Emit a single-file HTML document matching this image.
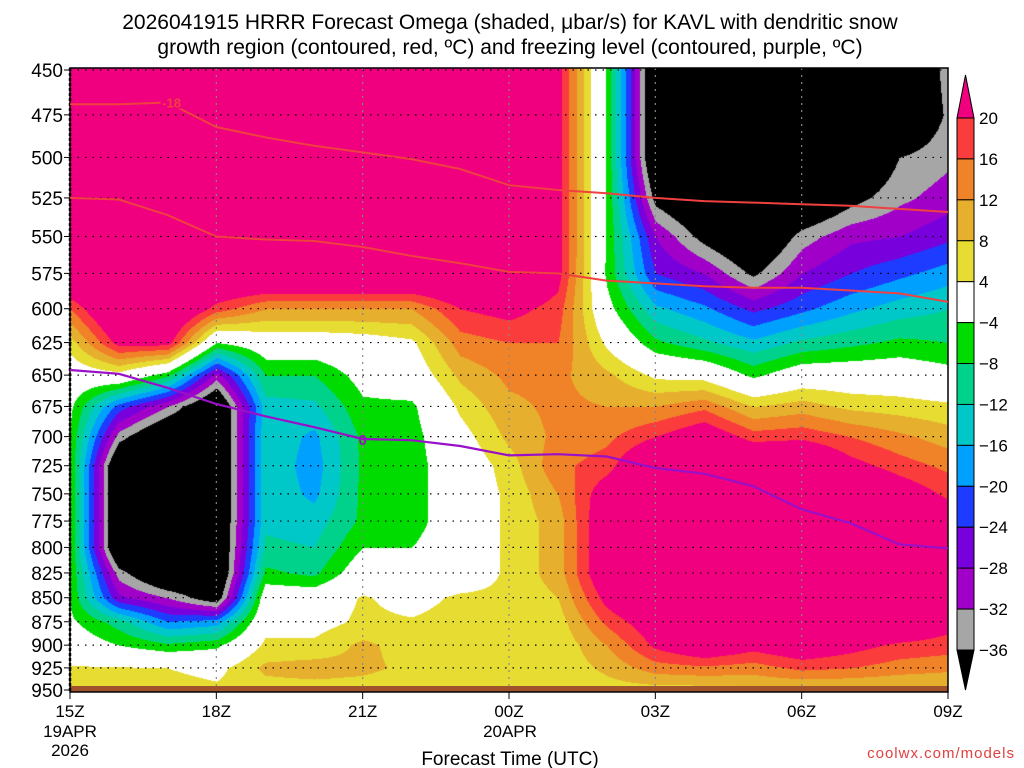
<!DOCTYPE html>
<html><head><meta charset="utf-8"><style>
body{margin:0;background:#fff;width:1024px;height:768px;overflow:hidden;font-family:"Liberation Sans",sans-serif}
#wrap{position:relative;width:1024px;height:768px}
canvas,svg{position:absolute;left:0;top:0}
</style></head><body><div id="wrap">
<canvas id="cv" width="1024" height="768"></canvas>
<svg id="sv" width="1024" height="768"></svg>
</div>
<script>
const hours=["15Z","16Z","17Z","18Z","19Z","20Z","21Z","22Z","23Z","00Z","01Z","02Z","03Z","04Z","05Z","06Z","07Z","08Z","09Z"];
const levels=[450,475,500,525,550,575,600,625,650,675,700,725,750,775,800,825,850,875,900,925,950];
// omega by hour, each array over levels 450..950
const omega=[
[30,30,30,30,30,30,16,6,0,-3,-4.5,-4.5,-4.5,-4.5,-4.5,-4.5,-4.5,-3,0,4.5,6],
[30,30,30,30,30,30,30,22,2,-22,-34,-45,-45,-45,-45,-34,-27,-10,-4,4.5,6],
[30,30,30,30,30,30,30,22,-7,-32,-45,-45,-45,-45,-45,-45,-32,-20,-7,4,6],
[30,30,30,30,30,30,18,-4,-30,-45,-45,-45,-45,-45,-45,-45,-40,-18,-5,2.5,5],
[30,30,30,30,30,30,12,0,-8,-14,-13,-13,-13,-13,-11,-7,0,2,5,9,6],
[30,30,30,30,30,30,12,0,-8,-13,-17,-18,-17,-14,-12,-9,0,2,5,10,6],
[30,30,30,30,30,30,12,1,-2,-5,-7,-7,-7,-7,-4,0,4.5,5,9,9,6],
[30,30,30,30,30,30,12,3,0,-5,-6,-6,-6,-6,-4,0,2,4.5,6,7,5],
[30,30,30,30,30,30,20,14,9,5,2,0,0,0,0,0,5,6,6,6,5],
[30,30,30,30,30,30,22,16,13,11,9,6,5,5,5,5,5,4,5,6,5],
[22,22,22,22,22,22,18,16,13,13,13,15,12,10,10,10,8,6,5,5,4],
[-4.5,-4.5,-4.5,-4.5,-4.5,-5,-2,3,9,12,15,18,24,26,26,26,22,17,12,9,6],
[-45,-45,-45,-38,-28,-24,-15,-7,3,12,20,30,30,30,30,30,30,24,21,14,6],
[-45,-45,-45,-45,-38,-28,-19,-11,2,15,25,30,30,30,30,30,30,26,26,15,6],
[-45,-45,-45,-45,-45,-37,-25,-15,-5,8,18,30,30,30,30,30,30,26,22,14,7],
[-45,-45,-45,-45,-34,-28,-21,-11,0,10,19,30,30,30,30,30,30,28,25,17,7],
[-45,-45,-45,-38,-29,-24,-17,-9,0,7,16,22,30,30,30,30,30,28,22,16,7],
[-45,-45,-36,-33,-28,-21,-14,-7,0,6,13,18,24,30,30,30,30,27,19,14,7],
[-34,-35,-33,-30,-25,-18,-12,-8,-2,5,10,15,19,24,24,24,24,22,18,13,7]];
const tempM18=[469,469,468,482,488,493,497,501,507,517,520,522,525,527,528,529,530,532,534];
const tempM12=[525,526,536,550,552,553,557,563,568,574,575,580,582,584,585,585,587,589,595];
const freezing=[646,649,660,673,683,692,702,703,708,716,715,717,727,732,743,764,777,797,801];
const cbLabels=["20","16","12","8","4","\u22124","\u22128","\u221212","\u221216","\u221220","\u221224","\u221228","\u221232","\u221236"];
const thresholds=[20,16,12,8,4,-4,-8,-12,-16,-20,-24,-28,-32,-36];
const colors=["#f0007e","#fa3c3c","#f08228","#e6af2d","#e6dc32","#ffffff","#00dc00","#00d28c","#00c8c8","#00a0ff","#1e3cff","#7800dc","#a000c8","#a6a6a6","#000000"];

const X0=70,X1=948,Y0=70,Y1=690,K=Math.log(950/450);
function xs(h){return X0+(X1-X0)*h/(hours.length-1);}
function ys(p){return Y0+(Y1-Y0)*Math.log(p/450)/K;}
function pAt(y){return 450*Math.exp((y-Y0)/(Y1-Y0)*K);}
function colorFor(v){for(let i=0;i<thresholds.length;i++){if(v>=thresholds[i])return colors[i];}return colors[colors.length-1];}

const cv=document.getElementById('cv'),ctx=cv.getContext('2d');
const W=X1-X0,Ht=692-68;
const img=ctx.createImageData(W,Ht);
const rgbCache={};
function rgb(c){if(!rgbCache[c])rgbCache[c]=[parseInt(c.substr(1,2),16),parseInt(c.substr(3,2),16),parseInt(c.substr(5,2),16)];return rgbCache[c];}
const nh=hours.length-1,nl=levels.length-1,dl=(levels[nl]-levels[0])/nl;
for(let py=0;py<Ht;py++){
 let p=Math.min(950,Math.max(450,pAt(68+py)));
 let r=(p-levels[0])/dl;let r0=Math.min(nl-1,Math.floor(r));let fr=r-r0;
 for(let px=0;px<W;px++){
  let h=px/(W)*nh;let c0=Math.min(nh-1,Math.floor(h));let fh=h-c0;
  let v=(omega[c0][r0]*(1-fh)+omega[c0+1][r0]*fh)*(1-fr)+(omega[c0][r0+1]*(1-fh)+omega[c0+1][r0+1]*fh)*fr;
  const c=rgb(colorFor(v));const i=(py*W+px)*4;
  img.data[i]=c[0];img.data[i+1]=c[1];img.data[i+2]=c[2];img.data[i+3]=255;
 }
}
ctx.putImageData(img,X0,68);

const NS="http://www.w3.org/2000/svg",sv=document.getElementById('sv');
function el(tag,at,txt){const e=document.createElementNS(NS,tag);for(const k in at)e.setAttribute(k,at[k]);if(txt!==undefined)e.textContent=txt;sv.appendChild(e);return e;}

levels.forEach((p,i)=>{
 const y=ys(p);
 const l=el('line',{x1:X0,x2:X1,y1:y,y2:y,stroke:'#000','stroke-width':1.2,'stroke-dasharray':'1.5,6'});
 
 
 const t=el('text',{x:63,y:y+7,'text-anchor':'end','font-size':19,fill:'#000'},String(p));
 
 
 el('line',{x1:64,x2:70,y1:y,y2:y,stroke:'#000'});
});
const g=el('rect',{x:X0,y:686,width:W,height:6,fill:'#a0522d'});


hours.forEach((h,i)=>{
 if(i%3!==0)return;
 const x=xs(i);
 if(i>0&&i<nh){const l=el('line',{x1:x,x2:x,y1:68,y2:692,stroke:'#888','stroke-width':1.2,'stroke-dasharray':'2,5'});
 
 }
 el('line',{x1:x,x2:x,y1:692,y2:699,stroke:'#000'});
 const t=el('text',{x:x,y:717,'text-anchor':'middle','font-size':17},h);
 
 
});
const dl1=el('text',{x:70,y:737,'text-anchor':'middle','font-size':17},'19APR');


const dl2=el('text',{x:70,y:756,'text-anchor':'middle','font-size':17},'2026');


const dl3=el('text',{x:510,y:737,'text-anchor':'middle','font-size':17},'20APR');



const fr=el('rect',{x:X0,y:68,width:W,height:624,fill:'none',stroke:'#000','stroke-width':1.5});


el('line',{x1:X0,x2:X0,y1:68,y2:692,stroke:'#000','stroke-width':2.5,'stroke-dasharray':'3,2'});

function line(arr,color,name,w){
 let d='';arr.forEach((p,i)=>{d+=(i?'L':'M')+xs(i).toFixed(1)+','+ys(p).toFixed(1);});
 const pth=el('path',{d:d,fill:'none',stroke:color,'stroke-width':w});
 
 
}
line(tempM18,'#f04040','temp-contour-minus18',2);
line(tempM12,'#f04040','temp-contour-minus12',2);
line(freezing,'#9a10c8','freezing-level-contour',2.2);
el('rect',{x:xs(2)-7,y:ys(tempM18[2])-8,width:22,height:14,fill:'#f0007e'});
const l18=el('text',{x:xs(2)+4,y:ys(tempM18[2])+5,'text-anchor':'middle','font-size':13,'font-weight':'bold',fill:'#f04040'},'-18');


const l0=el('text',{x:xs(6),y:ys(freezing[6])+6,'text-anchor':'middle','font-size':15,'font-weight':'bold',fill:'#9a10c8'},'0');



const CBX=957,CBW=17,CBT=118,CBB=650,bh=(CBB-CBT)/(thresholds.length-1);
const tri1=el('polygon',{points:`${CBX},${CBT} ${CBX+CBW},${CBT} ${CBX+CBW/2},${75}`,fill:colors[0],stroke:'#000'});


for(let i=0;i<thresholds.length-1;i++){
 const r=el('rect',{x:CBX,y:CBT+i*bh,width:CBW,height:bh,fill:colors[i+1],stroke:'#000','stroke-width':1});
 
 
}
const tri2=el('polygon',{points:`${CBX},${CBB} ${CBX+CBW},${CBB} ${CBX+CBW/2},${690}`,fill:'#000',stroke:'#000'});


cbLabels.forEach((s,i)=>{
 const t=el('text',{x:979,y:CBT+i*bh+6,'font-size':17},s);
 
 
});

const t1=el('text',{x:510,y:29,'text-anchor':'middle','font-size':21},'2026041915 HRRR Forecast Omega (shaded, \u03bcbar/s) for KAVL with dendritic snow');


const t2=el('text',{x:510,y:54,'text-anchor':'middle','font-size':21},'growth region (contoured, red, \u00baC) and freezing level (contoured, purple, \u00baC)');


const xt=el('text',{x:510,y:765,'text-anchor':'middle','font-size':19},'Forecast Time (UTC)');


const wm=el('text',{x:1015,y:758,'text-anchor':'end','font-size':15,fill:'#e04040','letter-spacing':'1'},'coolwx.com/models');


</script></body></html>
